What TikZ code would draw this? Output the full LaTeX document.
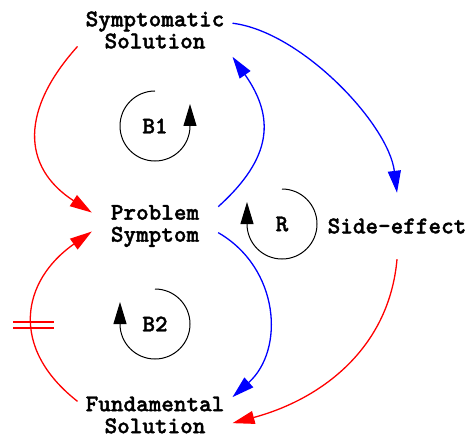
\documentclass[tikz,border=0pt]{standalone}
\usepackage{fontspec}
\newfontfamily\diagfont{lmmonolt10-bold.otf}[FakeBold=1.5]
\usetikzlibrary{arrows.meta}

\begin{document}
\begin{tikzpicture}[
    x=1pt, y=1pt,
    var/.style={inner sep=8pt, align=center,
                font=\diagfont\fontsize{24}{22}\selectfont},
    looplabel/.style={font=\diagfont\fontsize{24}{22}\selectfont},
    link/.style={line width=1.3pt, -{Triangle[length=22pt,width=13pt]}},
    poslink/.style={link, blue},
    neglink/.style={link, red},
    loopmark/.style={line width=1pt, -{Triangle[length=22pt,width=13pt]}},
    delaymark/.style={red, line width=1.3pt}
]
    \useasboundingbox (0,0) rectangle (470,437);

    \node[var] (ss) at (155,407) {Symptomatic\\Solution};
    \node[var, minimum width=126pt] (ps) at (155,211) {Problem\\Symptom};
    \node[var, minimum height=66pt] (se) at (397,211) {Side-effect};
    \node[var] (fs) at (155,22) {Fundamental\\Solution};

    \node[looplabel] (b1) at (155,311) {B1};
    \node[looplabel] (r) at (282,213) {R};
    \node[looplabel] (b2) at (155,113) {B2};

    \draw[neglink] (ss.192) to[out=228, in=147, looseness=1.3] (ps.168);
    \draw[poslink] (ps.17) to[out=42, in=305, looseness=1.25] (ss.south east);
    \draw[poslink] (ss.5) to[out=-7, in=97, looseness=0.75] (se.north);
    \draw[neglink] (fs.170) to[out=142, in=215, looseness=1.3] (ps.185);
    \draw[poslink] (ps.-6) to[out=-30, in=42, looseness=1.1] (fs.13);
    \draw[neglink] (se.south) to[out=-95, in=15] (fs.-6);

    \draw[delaymark] (13,115) -- (54,115) (13,109) -- (54,109);

    \draw[loopmark] ([shift={(90:35pt)}]b1.center)
        arc[start angle=90, end angle=360, radius=35pt] -- ++(0,22);
    \draw[loopmark] ([shift={(90:35pt)}]r.center)
        arc[start angle=90, end angle=-180, radius=35pt] -- ++(0,22);
    \draw[loopmark] ([shift={(90:35pt)}]b2.center)
        arc[start angle=90, end angle=-180, radius=35pt] -- ++(0,22);
\end{tikzpicture}
\end{document}
